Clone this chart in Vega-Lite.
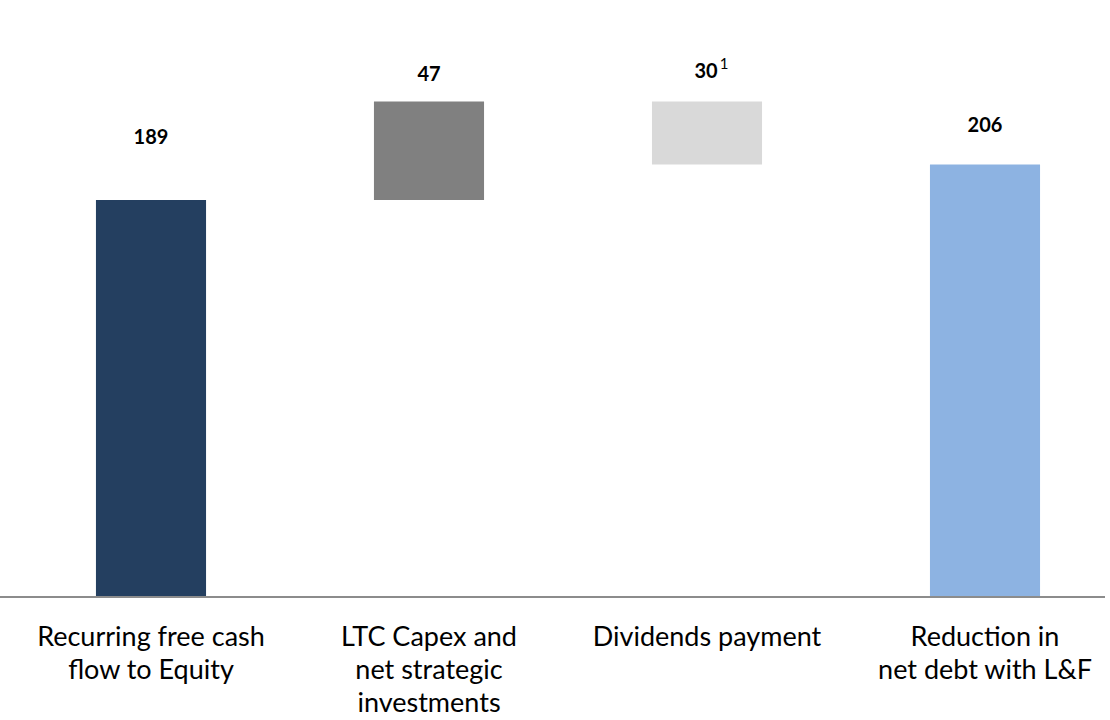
{
  "$schema": "https://vega.github.io/schema/vega-lite/v6.json",
  "width": 1110,
  "height": 597,
  "autosize": {"type": "none"},
  "padding": {"left": 0, "top": 0, "right": 0, "bottom": 123},
  "background": "white",
  "config": {"view": {"stroke": null}, "font": "Lato"},
  "data": {"values": [
    {"category": "Recurring free cash\nflow to Equity", "value": 189, "start": 0, "end": 189, "label": "189", "kind": "total"},
    {"category": "LTC Capex and\nnet strategic\ninvestments", "value": 47, "start": 189, "end": 236, "label": "47", "kind": "capex"},
    {"category": "Dividends payment", "value": 30, "start": 236, "end": 206, "label": "30", "kind": "dividends"},
    {"category": "Reduction in\nnet debt with L&F", "value": 206, "start": 0, "end": 206, "label": "206", "kind": "result"}
  ]},
  "encoding": {
    "x": {
      "field": "category", "type": "nominal", "sort": null,
      "scale": {"range": [12, 1124], "paddingInner": 0.604, "paddingOuter": 0.302},
      "axis": {
        "title": null, "domain": false, "ticks": false, "labelAngle": 0,
        "labelExpr": "split(datum.label, '\\n')", "labelLimit": 0,
        "labelFont": "Lato", "labelFontSize": 27, "labelColor": "#000000",
        "labelPadding": 27, "labelLineHeight": 33, "labelBaseline": "top"
      }
    }
  },
  "layer": [
    {
      "mark": {"type": "bar"},
      "encoding": {
        "y": {"field": "start", "type": "quantitative", "scale": {"domain": [0, 284.3], "nice": false, "zero": true}, "axis": null},
        "y2": {"field": "end"},
        "color": {
          "field": "kind", "type": "nominal", "legend": null,
          "scale": {"domain": ["total", "capex", "dividends", "result"], "range": ["#243F60", "#808080", "#D9D9D9", "#8DB3E2"]}
        }
      }
    },
    {
      "mark": {"type": "rule", "color": "#8C8C8C", "strokeWidth": 2},
      "encoding": {"y": {"datum": 0, "type": "quantitative"}, "x": {"value": 0}, "x2": {"value": 1105}}
    },
    {
      "transform": [{"filter": "datum.kind == 'total'"}],
      "mark": {"type": "text", "fontWeight": "bold", "fontSize": 20, "dy": -62, "color": "#000000"},
      "encoding": {"y": {"field": "end", "type": "quantitative"}, "text": {"field": "label"}}
    },
    {
      "transform": [{"filter": "datum.kind == 'capex'"}],
      "mark": {"type": "text", "fontWeight": "bold", "fontSize": 20, "dy": -26, "color": "#000000"},
      "encoding": {"y": {"field": "end", "type": "quantitative"}, "text": {"field": "label"}}
    },
    {
      "transform": [{"filter": "datum.kind == 'dividends'"}],
      "mark": {"type": "text", "fontWeight": "bold", "fontSize": 20, "dy": -29, "dx": -1, "color": "#000000"},
      "encoding": {"y": {"field": "start", "type": "quantitative"}, "text": {"field": "label"}}
    },
    {
      "transform": [{"filter": "datum.kind == 'dividends'"}],
      "mark": {"type": "text", "fontSize": 15, "dy": -37, "dx": 17, "color": "#000000"},
      "encoding": {"y": {"field": "start", "type": "quantitative"}, "text": {"value": "1"}}
    },
    {
      "transform": [{"filter": "datum.kind == 'result'"}],
      "mark": {"type": "text", "fontWeight": "bold", "fontSize": 20, "dy": -38, "color": "#000000"},
      "encoding": {"y": {"field": "end", "type": "quantitative"}, "text": {"field": "label"}}
    }
  ]
}
